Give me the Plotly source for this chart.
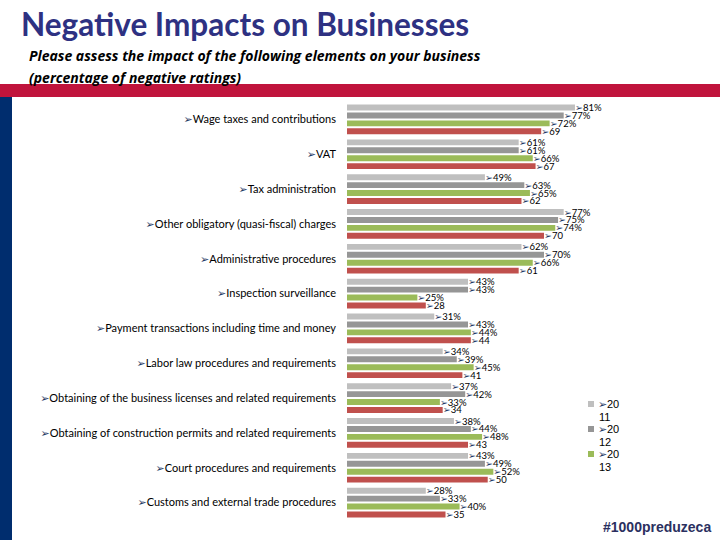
import plotly.graph_objects as go

categories = [
    "Wage taxes and contributions",
    "VAT",
    "Tax administration",
    "Other obligatory (quasi-fiscal) charges",
    "Administrative procedures",
    "Inspection surveillance",
    "Payment transactions including time and money",
    "Labor law procedures and requirements",
    "Obtaining of the business licenses and related requirements",
    "Obtaining of construction permits and related requirements",
    "Court procedures and requirements",
    "Customs and external trade procedures",
]
y2011 = [81, 61, 49, 77, 62, 43, 31, 34, 37, 38, 43, 28]
y2012 = [77, 61, 63, 75, 70, 43, 43, 39, 42, 44, 49, 33]
y2013 = [72, 66, 65, 74, 66, 25, 44, 45, 33, 48, 52, 40]
y2014 = [69, 67, 62, 70, 61, 28, 44, 41, 34, 43, 50, 35]

series_names = ["2011", "2012", "2013", "2014"]
legend_shown = [True, True, True, False]
colors = ["#BFBFBF", "#969696", "#9BBB59", "#C0504D"]
pct_suffix = ["%", "%", "%", ""]

ARROW = "<span style='color:#1F3864'>➢</span>"

L, R, T, B = 347, 100, 102, 20
PW, PH = 720 - L - R, 540 - T - B


def px_x(px):
    return (px - L) / PW


def px_y(py):
    return (540 - B - py) / PH


fig = go.Figure()
for vals, name, col, suf in zip([y2011, y2012, y2013, y2014], series_names, colors, pct_suffix):
    fig.add_trace(go.Bar(
        y=categories, x=vals, orientation="h",
        marker=dict(color=col, line=dict(width=0)),
        name=name,
        text=[f"{ARROW}{v}{suf}" for v in vals],
        textposition="outside",
        constraintext="none",
        textfont=dict(family="Lato, DejaVu Sans", size=9.5, color="#000000"),
        cliponaxis=False,
        showlegend=False,
    ))

ticktext = [f"{ARROW}{c}" for c in categories]

fig.update_layout(
    width=720, height=540,
    margin=dict(l=L, r=R, t=T, b=B),
    paper_bgcolor="white", plot_bgcolor="white",
    barmode="group", bargap=0.09, bargroupgap=0.25,
    xaxis=dict(range=[0, 97], visible=False),
    yaxis=dict(autorange="reversed", showgrid=False, zeroline=False, showline=False,
               tickmode="array", tickvals=categories, ticktext=ticktext,
               ticks="", ticklabelstandoff=10,
               tickfont=dict(family="Lato, DejaVu Sans", size=11, color="#000000")),
    showlegend=False,
)

shapes = [
    dict(type="rect", xref="paper", yref="paper", x0=px_x(0), x1=px_x(720),
         y0=px_y(97), y1=px_y(84), fillcolor="#C0143C", line=dict(width=0), layer="below"),
    dict(type="rect", xref="paper", yref="paper", x0=px_x(0), x1=px_x(12),
         y0=px_y(540), y1=px_y(97), fillcolor="#002D6E", line=dict(width=0), layer="below"),
]

# manual legend (series 2011-2013, as shown in the reference)
leg_y = 404
for name, col, shown in zip(series_names, colors, legend_shown):
    if not shown:
        continue
    shapes.append(dict(type="rect", xref="paper", yref="paper",
                       x0=px_x(588), x1=px_x(594), y0=px_y(leg_y + 3), y1=px_y(leg_y - 3),
                       fillcolor=col, line=dict(width=0)))
    fig.add_annotation(text=f"{ARROW}{name[:2]}", xref="paper", yref="paper",
                       x=px_x(596), y=px_y(leg_y), xanchor="left", yanchor="middle",
                       align="left", showarrow=False,
                       font=dict(family="Liberation Sans, Arial", size=11, color="#000000"))
    fig.add_annotation(text=name[2:], xref="paper", yref="paper",
                       x=px_x(597), y=px_y(leg_y + 12.5), xanchor="left", yanchor="middle",
                       align="left", showarrow=False,
                       font=dict(family="Liberation Sans, Arial", size=11, color="#000000"))
    leg_y += 25

fig.update_layout(shapes=shapes)

fig.add_annotation(text="<b>Negative Impacts on Businesses</b>", xref="paper", yref="paper",
                   x=px_x(19), y=px_y(24), xanchor="left", yanchor="middle", showarrow=False,
                   font=dict(family="Lato", size=31.5, color="#2E3182"))
fig.add_annotation(text="<b><i>Please assess the impact of the following elements on your business</i></b>",
                   xref="paper", yref="paper", x=px_x(27), y=px_y(56), xanchor="left", yanchor="middle",
                   showarrow=False, font=dict(family="Open Sans", size=14, color="#000000"))
fig.add_annotation(text="<b><i>(percentage of negative ratings)</i></b>",
                   xref="paper", yref="paper", x=px_x(27), y=px_y(77), xanchor="left", yanchor="middle",
                   showarrow=False, font=dict(family="Open Sans", size=14, color="#000000"))
fig.add_annotation(text="<b>#1000preduzeca</b>", xref="paper", yref="paper",
                   x=px_x(713), y=px_y(527), xanchor="right", yanchor="middle", showarrow=False,
                   font=dict(family="Liberation Sans, Arial", size=14, color="#2B3060"))

fig.write_html("out.html", config={"displayModeBar": False},
               post_script="document.body.style.margin='0';document.body.style.padding='0';")
